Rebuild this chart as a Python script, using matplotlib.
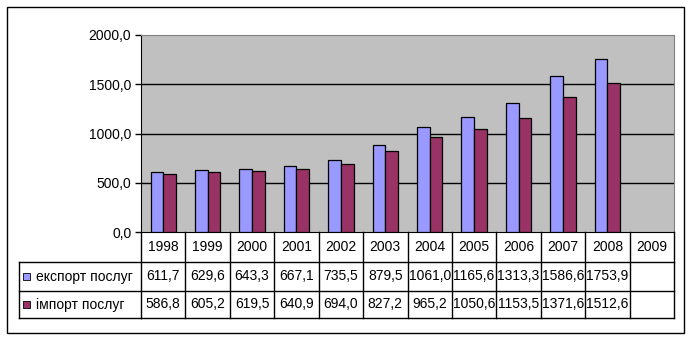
import numpy as np
import matplotlib.pyplot as plt
from matplotlib.lines import Line2D
from matplotlib.patches import Rectangle
from matplotlib.transforms import blended_transform_factory
from matplotlib.ticker import FuncFormatter

plt.rcParams['font.family'] = ['Liberation Sans', 'DejaVu Sans']
plt.rcParams['font.size'] = 10

years = ['1998', '1999', '2000', '2001', '2002', '2003', '2004', '2005',
         '2006', '2007', '2008', '2009']
export = [611.7, 629.6, 643.3, 667.1, 735.5, 879.5, 1061.0, 1165.6,
          1313.3, 1586.6, 1753.9, np.nan]
imports = [586.8, 605.2, 619.5, 640.9, 694.0, 827.2, 965.2, 1050.6,
           1153.5, 1371.6, 1512.6, np.nan]
names = ['експорт послуг', 'імпорт послуг']
colors = ['#9999FF', '#993366']

W, H = 691, 340
fig = plt.figure(figsize=(W / 100, H / 100), dpi=100)

def fx(px):
    return px / W

def fy(py):
    return 1 - py / H

# outer frame
fig.add_artist(Rectangle((fx(7), fy(333)), fx(677), 326 / H, fill=False,
                         edgecolor='black', lw=1, transform=fig.transFigure))

ax = fig.add_axes([fx(141), fy(232), fx(533), 197 / H])
ax.set_facecolor('#C0C0C0')

x = np.arange(len(years))
bw = 1 / 3.5
ax.bar(x - bw / 2, export, bw, color=colors[0], edgecolor='black', lw=0.9, zorder=3)
ax.bar(x + bw / 2, imports, bw, color=colors[1], edgecolor='black', lw=0.9, zorder=3)

ax.set_xlim(-0.5, len(years) - 0.5)
ax.set_ylim(0, 2000)
ax.set_yticks(np.arange(0, 2001, 500))
ax.yaxis.set_major_formatter(FuncFormatter(lambda v, p: f"{v:.1f}".replace('.', ',')))
ax.tick_params(axis='y', length=4, width=1, pad=3, labelsize=10)
ax.set_xticks([])
for v in (500, 1000, 1500):
    ax.axhline(v, color='black', lw=1, zorder=1)
ax.spines['left'].set_color('black')
ax.spines['bottom'].set_color('black')
ax.spines['top'].set_color('#808080')
ax.spines['right'].set_color('#808080')

# data table under the plot
tr = blended_transform_factory(ax.transData, fig.transFigure)
y_top, y_hdr, y_mid, y_bot = fy(232), fy(262), fy(291), fy(318)
left_edge = fx(19)
x0, x1 = -0.5, len(years) - 0.5

def hline(y, xa, xb, trans):
    fig.add_artist(Line2D([xa, xb], [y, y], color='black', lw=1, transform=trans))

# horizontal lines
for y in (y_hdr, y_mid, y_bot):
    hline(y, left_edge, fx(141), fig.transFigure)
    hline(y, x0, x1, tr)

# vertical lines
for b in np.arange(len(years) + 1) - 0.5:
    fig.add_artist(Line2D([b, b], [y_top, y_bot], color='black', lw=1, transform=tr))
fig.add_artist(Line2D([left_edge, left_edge], [y_hdr, y_bot], color='black', lw=1,
                      transform=fig.transFigure))

def fmt(v):
    return '' if np.isnan(v) else f"{v:.1f}".replace('.', ',')

for i, yr in enumerate(years):
    fig.text(i, (y_top + y_hdr) / 2, yr, transform=tr, ha='center', va='center')
    fig.text(i, (y_hdr + y_mid) / 2, fmt(export[i]), transform=tr, ha='center', va='center')
    fig.text(i, (y_mid + y_bot) / 2, fmt(imports[i]), transform=tr, ha='center', va='center')

for name, col, (ya, yb) in zip(names, colors, [(y_hdr, y_mid), (y_mid, y_bot)]):
    yc = (ya + yb) / 2
    fig.add_artist(Rectangle((fx(23), yc - 3.5 / H), fx(7), 7 / H, facecolor=col,
                             edgecolor='black', lw=0.6, transform=fig.transFigure))
    fig.text(fx(36), yc, name, ha='left', va='center')

fig.savefig('out.png', dpi=100)
